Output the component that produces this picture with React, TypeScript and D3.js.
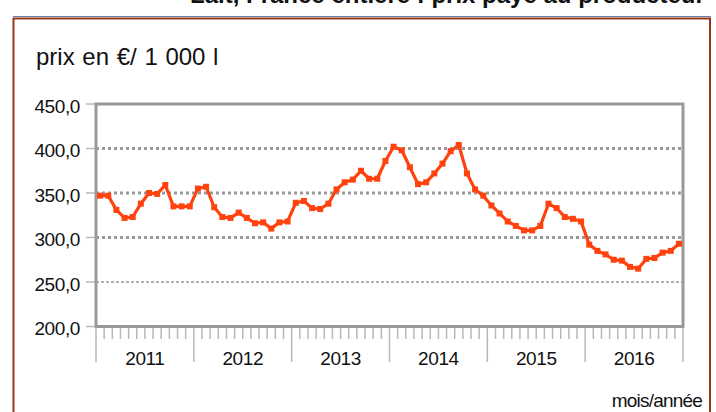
import React from "react";
import * as d3 from "d3";

const years = ["2011", "2012", "2013", "2014", "2015", "2016"];
const yTicks = [200, 250, 300, 350, 400, 450];
const prices2011 = [347, 347, 331, 322, 323, 338, 350, 349, 359, 335, 335, 335];
const prices2012 = [355, 357, 334, 323, 322, 328, 322, 316, 317, 310, 317, 318];
const prices2013 = [339, 341, 333, 332, 338, 354, 362, 365, 375, 366, 366, 386];
const prices2014 = [402, 398, 379, 360, 362, 372, 383, 397, 404, 372, 354, 347];
const prices2015 = [336, 327, 318, 313, 308, 308, 313, 338, 333, 323, 321, 318];
const prices2016 = [292, 285, 281, 275, 274, 267, 265, 276, 277, 283, 285, 293];
const titleText = "Lait, France entière : prix payé au producteur";
const yAxisTitle = "prix en €/ 1 000 l";
const xAxisTitle = "mois/année";

const values = [
  ...prices2011,
  ...prices2012,
  ...prices2013,
  ...prices2014,
  ...prices2015,
  ...prices2016,
];

export default function App() {
  const W = 716;
  const H = 412;
  const left = 96;
  const right = 683;
  const top = 104;
  const bottom = 326.5;
  const font = "'Liberation Sans', Arial, sans-serif";
  const gray = "#999999";
  const tickGray = "#b8b8b8";
  const lineColor = "#ff420e";

  const x = d3
    .scaleBand<number>()
    .domain(d3.range(values.length))
    .range([left, right])
    .padding(0);
  const bw = x.bandwidth();
  const cx = (i: number) => (x(i) as number) + bw / 2;
  const y = d3.scaleLinear().domain([200, 450]).range([bottom, top]);

  const line = d3
    .line<number>()
    .x((_, i) => cx(i))
    .y((d) => y(d));

  const monthBounds = d3.range(values.length + 1);

  return (
    <svg
      width={W}
      height={H}
      style={{ position: "absolute", left: 0, top: 0, background: "#fff" }}
      fontFamily={font}
    >
      <rect x={0} y={0} width={W} height={H} fill="#fff" />
      {/* title, cut off by the top edge as in the source */}
      <text x={190} y={3} fontSize={24} fontWeight="bold" fill="#111">
        {titleText}
      </text>
      {/* outer frame */}
      <line x1={13} x2={711} y1={16.5} y2={16.5} stroke="#6b7fa8" strokeWidth={1} />
      <rect
        x={13.5}
        y={18.5}
        width={696.5}
        height={420}
        fill="none"
        stroke="#9a3520"
        strokeWidth={2}
      />
      <text x={36} y={65} fontSize={24} fill="#111" wordSpacing={1}>
        {yAxisTitle}
      </text>

      {/* gridlines */}
      {yTicks
        .filter((t) => t > 200 && t < 450)
        .map((t) => (
          <line
            key={"g" + t}
            x1={left}
            x2={right}
            y1={y(t)}
            y2={y(t)}
            stroke={gray}
            strokeWidth={t === 250 ? 1.5 : 3}
            strokeDasharray={t === 250 ? "3,2" : "3,3"}
          />
        ))}

      {/* y ticks and labels */}
      {yTicks.map((t) => (
        <g key={"y" + t}>
          <line x1={86} x2={96} y1={y(t)} y2={y(t)} stroke={tickGray} strokeWidth={1.5} />
          <text
            x={80}
            y={y(t) + 8.5}
            textAnchor="end"
            fontSize={19}
            letterSpacing={-0.4}
            fill="#111"
          >
            {d3.format(".1f")(t).replace(".", ",")}
          </text>
        </g>
      ))}

      {/* x ticks */}
      {monthBounds.map((m) => {
        const xx = m < values.length ? (x(m) as number) : right;
        const major = m % 12 === 0;
        return (
          <line
            key={"m" + m}
            x1={xx}
            x2={xx}
            y1={bottom}
            y2={major ? 362 : 339}
            stroke={tickGray}
            strokeWidth={1.5}
          />
        );
      })}
      {years.map((yr, k) => {
        const x0 = x(k * 12) as number;
        const x1 = k * 12 + 12 < values.length ? (x(k * 12 + 12) as number) : right;
        return (
          <text
            key={yr}
            x={(x0 + x1) / 2}
            y={365}
            textAnchor="middle"
            fontSize={19}
            letterSpacing={-0.4}
            fill="#111"
          >
            {yr}
          </text>
        );
      })}

      {/* plot frame */}
      <rect
        x={left}
        y={top}
        width={right - left}
        height={bottom - top}
        fill="none"
        stroke={gray}
        strokeWidth={3}
      />

      {/* series */}
      <path
        d={line(values) || ""}
        fill="none"
        stroke={lineColor}
        strokeWidth={3.2}
        strokeLinejoin="round"
      />
      {values.map((v, i) => (
        <rect
          key={"p" + i}
          x={cx(i) - 3}
          y={y(v) - 3}
          width={6}
          height={6}
          fill={lineColor}
        />
      ))}

      <text x={702} y={407} textAnchor="end" fontSize={19} letterSpacing={-0.8} fill="#111">
        {xAxisTitle}
      </text>
    </svg>
  );
}
